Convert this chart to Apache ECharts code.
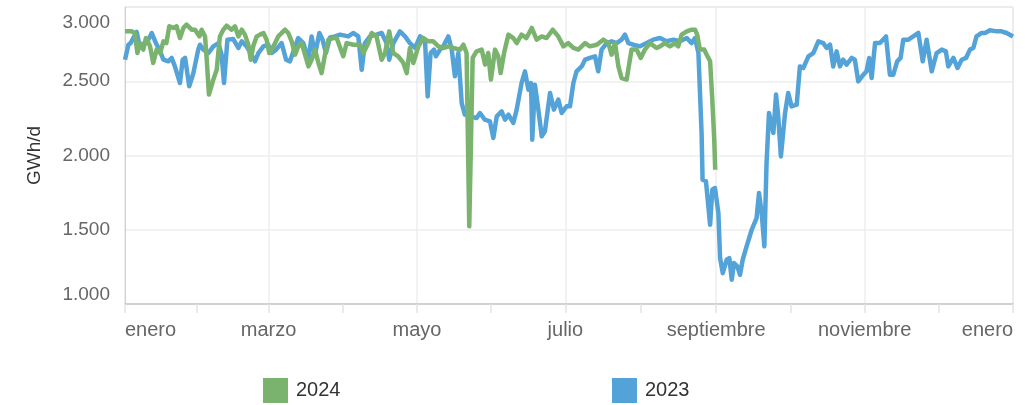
<!DOCTYPE html>
<html>
<head>
<meta charset="utf-8">
<script src="https://cdn.jsdelivr.net/npm/echarts@6/dist/echarts.min.js"></script>
<style>
  html, body { margin: 0; padding: 0; background: #fff; }
  #chart { width: 1025px; height: 405px; }
</style>
</head>
<body>
<div id="chart"></div>
<script>
// dias desde el 1 de enero (eje comun) y valores en GWh/d
var dias2023 = [0, 1.4, 2.3, 4.8, 5.9, 8.9, 11, 12.7, 14.1, 15.8, 17.8, 19.2, 20.5, 22.6, 23.7, 24.7, 26.4, 28.1, 30.1, 30.8,
  32.2, 34.3, 36.3, 38.4, 39.7, 40.7, 42.1, 44.5, 46.6, 48, 50, 52, 53.4, 54.8, 56.9, 58.9, 60.3, 62.1, 64.4, 66.2,
  67.8, 69.5, 71.2, 73.3, 75.4, 76.7, 78.1, 79.9, 81.2, 82.6, 84.3, 86.3, 88.4, 91.8, 93.8, 95.9, 97.3, 98.6, 100.7, 103.4,
  105.5, 107.5, 108.6, 110.3, 113, 115.1, 117.1, 119.2, 121.3, 123.3, 124.4, 125.6, 127, 127.8, 129.5, 130.8, 132.9, 134.3, 135.6, 137,
  138.4, 139.7, 141.8, 144.5, 145.9, 147.9, 150, 151.4, 152.8, 154.8, 156.2, 157.6, 159.6, 161, 163, 164.4, 165.8, 166.9, 167.4, 168.5,
  169.9, 171.3, 172.6, 174.7, 176.3, 178.1, 179.5, 181.5, 182.9, 184.3, 185.6, 187.7, 189.1, 191.1, 193.2, 194.5, 195.9, 198, 200, 202.1,
  204.1, 205.5, 206.9, 208.9, 211.7, 214.4, 217.1, 219.9, 222.6, 225.4, 228.1, 230.9, 232.9, 234.3, 235.7, 237, 237.4, 238.8, 240.5, 241.4,
  242.5, 243.9, 244.6, 245.7, 247.3, 248.4, 249.4, 250.3, 251.7, 252.8, 253.9, 255.5, 257.6, 259.6, 260.6, 261.7, 262.8, 263.7, 264.7, 266.5,
  267.6, 268.5, 269.6, 271.3, 272.6, 274, 276.1, 277.4, 278.8, 280.9, 282.9, 285, 287, 288.4, 289.8, 291.1, 292.5, 293.9, 295.2, 296.6,
  298.7, 300, 301.4, 303.5, 304.8, 305.9, 306.9, 308.3, 310.3, 312.8, 314.4, 315.8, 317.4, 318.8, 319.9, 322, 324, 326.1, 327.9, 329.5,
  331.6, 333.6, 335.7, 337.4, 338.4, 340.5, 342.2, 343.9, 345.7, 347.3, 348.7, 350, 352.1, 353.5, 355.5, 358.3, 360.3, 362.4, 365];
var valores2023 = [2645, 2746, 2757, 2832, 2746, 2757, 2825, 2757, 2713, 2645, 2634, 2657, 2600, 2488, 2645, 2657, 2466, 2555, 2713, 2746,
  2713, 2690, 2735, 2757, 2679, 2488, 2780, 2784, 2724, 2769, 2735, 2679, 2634, 2690, 2735, 2746, 2690, 2713, 2757, 2645,
  2634, 2713, 2791, 2757, 2645, 2802, 2679, 2825, 2780, 2690, 2795, 2802, 2814, 2802, 2825, 2802, 2578, 2757, 2802, 2814,
  2825, 2757, 2645, 2757, 2836, 2802, 2757, 2724, 2802, 2780, 2398, 2690, 2713, 2668, 2713, 2735, 2802, 2713, 2533, 2690,
  2353, 2275, 2264, 2252, 2286, 2241, 2230, 2118, 2264, 2297, 2241, 2275, 2219, 2309, 2488, 2567, 2443, 2488, 2106, 2476,
  2309, 2129, 2163, 2421, 2309, 2376, 2286, 2331, 2331, 2488, 2567, 2600, 2645, 2657, 2668, 2567, 2713, 2757, 2769, 2757,
  2780, 2814, 2757, 2746, 2735, 2757, 2780, 2791, 2769, 2780, 2769, 2791, 2757, 2791, 2690, 2151, 1837, 1826, 1534, 1770,
  1781, 1613, 1310, 1208, 1298, 1309, 1164, 1276, 1253, 1197, 1298, 1388, 1500, 1579, 1747, 1613, 1388, 1949, 2286, 2151,
  2410, 2264, 1994, 2286, 2421, 2331, 2342, 2600, 2589, 2668, 2690, 2769, 2757, 2724, 2746, 2600, 2701, 2600, 2645, 2612,
  2657, 2645, 2499, 2544, 2567, 2657, 2522, 2757, 2757, 2802, 2544, 2544, 2634, 2657, 2780, 2780, 2802, 2825, 2634, 2780,
  2567, 2690, 2713, 2701, 2600, 2657, 2589, 2645, 2657, 2713, 2724, 2802, 2825, 2825, 2843, 2836, 2836, 2825, 2802];

var dias2024 = [0, 2.7, 4, 5.1, 6.2, 7.5, 8.6, 10.3, 11.6, 13, 14.4, 15.8, 17, 18.2, 19.9, 21.2, 22.6, 24, 25.3, 27.4,
  28.8, 30.6, 31.5, 32.9, 33.6, 34.5, 36.3, 37.7, 39, 40.4, 41.8, 43.8, 45.2, 46.6, 48, 49.3, 50.7, 51.7, 52.7, 54.1,
  55.5, 56.9, 58.2, 59.3, 60.3, 61.7, 63, 64.4, 65.8, 67.1, 68.5, 69.9, 71.2, 72.6, 74, 75.4, 76.7, 78.1, 79.5, 80.8,
  82.2, 83.6, 85.6, 87, 89.7, 91.1, 93.9, 96.6, 98, 100, 101.4, 103.4, 105.5, 106.9, 108.6, 110.3, 112.3, 114.4, 115.8, 117.1,
  118.5, 120.6, 122.6, 124.7, 126.7, 128.8, 130.8, 132.9, 135, 137.7, 139.1, 140.4, 141.5, 142.9, 144.5, 146.6, 148, 149.3, 150.4, 152.1,
  153.4, 154.4, 155.8, 157.6, 159.6, 161, 163, 165, 167.2, 169.2, 171.3, 173.3, 175.8, 178.1, 180.2, 182.2, 184.3, 186.3, 189.1, 191.1,
  193.9, 196.6, 198.7, 200, 201.4, 202.8, 204.1, 206.2, 208.2, 210.3, 212, 213.7, 215.8, 218.5, 219.9, 221.9, 224, 226, 227.4, 228.8,
  230.9, 232.9, 234.3, 235.2, 236.3, 238.1, 239.1, 240.5, 241.4, 242.2, 242.6];
var valores2024 = [2836, 2836, 2825, 2690, 2757, 2713, 2791, 2735, 2623, 2713, 2690, 2769, 2757, 2870, 2859, 2870, 2791, 2859, 2881, 2847,
  2847, 2802, 2847, 2802, 2645, 2410, 2511, 2578, 2802, 2847, 2874, 2847, 2870, 2802, 2847, 2814, 2746, 2645, 2735, 2802,
  2814, 2825, 2780, 2690, 2713, 2757, 2802, 2825, 2847, 2825, 2769, 2679, 2735, 2757, 2679, 2600, 2645, 2713, 2623, 2555,
  2679, 2780, 2791, 2791, 2668, 2757, 2746, 2746, 2690, 2757, 2825, 2802, 2645, 2690, 2836, 2690, 2668, 2623, 2555, 2724,
  2623, 2735, 2791, 2769, 2769, 2735, 2724, 2735, 2724, 2713, 2746, 2690, 1523, 2657, 2701, 2713, 2612, 2690, 2511, 2713,
  2668, 2555, 2690, 2814, 2791, 2757, 2814, 2791, 2859, 2780, 2802, 2791, 2847, 2802, 2735, 2757, 2724, 2713, 2757, 2735,
  2746, 2780, 2757, 2679, 2757, 2600, 2522, 2511, 2713, 2713, 2657, 2713, 2757, 2724, 2735, 2757, 2735, 2757, 2735, 2814,
  2836, 2847, 2847, 2814, 2713, 2713, 2679, 2634, 2376, 2106, 1904];

var meses = ['enero', 'febrero', 'marzo', 'abril', 'mayo', 'junio', 'julio', 'agosto',
  'septiembre', 'octubre', 'noviembre', 'diciembre'];
var ticksY = [1000, 1500, 2000, 2500, 3000];

var inicio = Date.UTC(2023, 0, 1);
var fin = Date.UTC(2024, 0, 1);
var DIA = 86400000;

function puntos(dias, valores) {
  return dias.map(function (d, i) { return [inicio + d * DIA, valores[i]]; });
}

var myChart = echarts.init(document.getElementById('chart'));
myChart.setOption({
  animation: false,
  useUTC: true,
  textStyle: { fontFamily: 'Liberation Sans, Arial, sans-serif' },
  grid: {
    left: 125, right: 12, top: 7, bottom: 101,
    show: true, borderColor: '#d0d0d0', borderWidth: 1
  },
  legend: [
    {
      data: ['2024'], left: 258, top: 373,
      itemWidth: 25, itemHeight: 25, icon: 'rect',
      textStyle: { fontSize: 20, color: '#333', padding: [0, 0, 0, 3] }
    },
    {
      data: ['2023'], left: 607, top: 373,
      itemWidth: 25, itemHeight: 25, icon: 'rect',
      textStyle: { fontSize: 20, color: '#333', padding: [0, 0, 0, 3] }
    }
  ],
  xAxis: {
    type: 'time',
    min: inicio,
    max: fin,
    splitNumber: 5,
    axisLine: { lineStyle: { color: '#c8c8c8', width: 1.5 } },
    axisTick: { show: true, length: 9, lineStyle: { color: '#e3e3e3', width: 1.5 } },
    minorTick: { show: true, splitNumber: 2, length: 9, lineStyle: { color: '#e3e3e3', width: 1.5 } },
    splitLine: { show: true, lineStyle: { color: '#eeeeee', width: 1.5 } },
    axisLabel: {
      fontSize: 20,
      color: '#666',
      margin: 16,
      showMinLabel: true,
      showMaxLabel: true,
      alignMinLabel: 'left',
      alignMaxLabel: 'right',
      formatter: function (v) { return meses[new Date(v).getUTCMonth()]; }
    }
  },
  yAxis: {
    type: 'value',
    min: ticksY[0],
    max: ticksY[ticksY.length - 1],
    interval: 500,
    name: 'GWh/d',
    nameLocation: 'middle',
    nameRotate: 90,
    nameGap: 81,
    nameTextStyle: { fontSize: 19, color: '#333' },
    axisLine: { show: true, lineStyle: { color: '#d0d0d0' } },
    axisTick: { show: false },
    splitLine: { lineStyle: { color: '#eeeeee', width: 1.5 } },
    axisLabel: {
      fontSize: 19,
      color: '#666',
      margin: 15,
      verticalAlignMinLabel: 'bottom',
      verticalAlignMaxLabel: 'top',
      formatter: function (v) {
        var txt = String(v).replace(/\B(?=(\d{3})+(?!\d))/g, '.');
        return v === ticksY[ticksY.length - 1] ? '{tope|' + txt + '}' : txt;
      },
      rich: {
        tope: { fontSize: 19, color: '#666', padding: [6, 0, 0, 0] }
      }
    }
  },
  series: [
    {
      name: '2023',
      type: 'line',
      showSymbol: false,
      color: '#54a3d8',
      lineStyle: { width: 4.5, color: '#54a3d8', join: 'round' },
      data: puntos(dias2023, valores2023)
    },
    {
      name: '2024',
      type: 'line',
      showSymbol: false,
      color: '#7ab36e',
      lineStyle: { width: 4.5, color: '#7ab36e', join: 'round' },
      data: puntos(dias2024, valores2024)
    }
  ]
});
</script>
</body>
</html>
